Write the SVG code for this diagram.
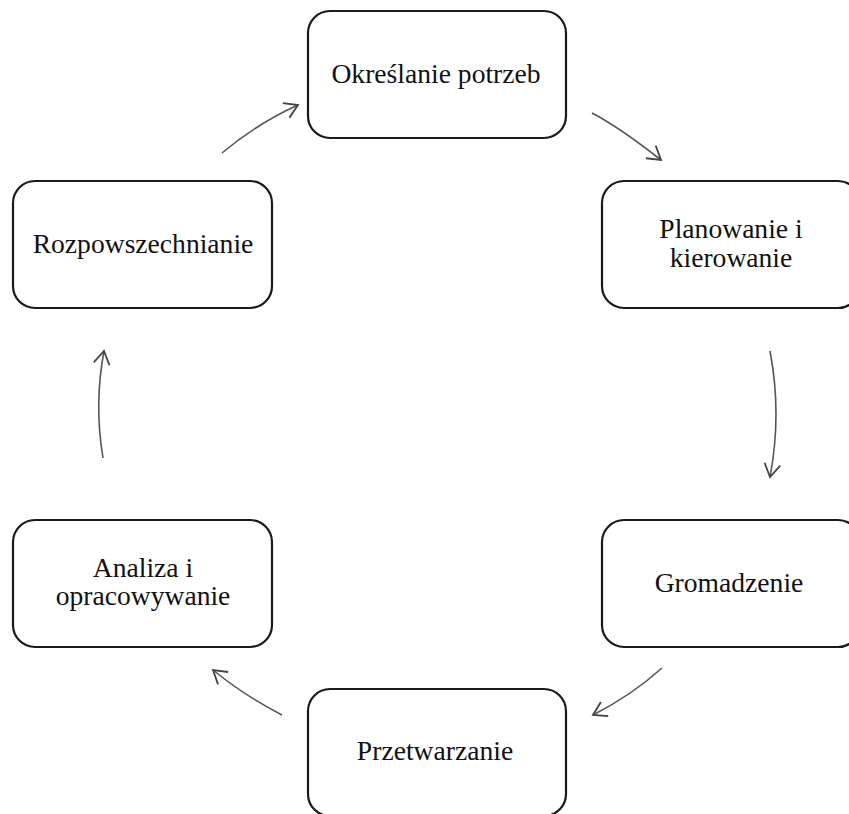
<svg xmlns="http://www.w3.org/2000/svg" width="849" height="814" viewBox="0 0 849 814">
<style>
.box{fill:#fff;stroke:#1a1a1a;stroke-width:2.2}
.lbl{font-family:"Liberation Serif","Times New Roman",serif;font-size:27.6px;fill:#111;text-anchor:middle}
.arc{fill:none;stroke:#555;stroke-width:1.6;marker-end:url(#ah)}
</style>
<defs>
<marker id="ah" markerUnits="userSpaceOnUse" viewBox="-16 -10 18 20" refX="0" refY="0" markerWidth="18" markerHeight="20" orient="auto">
<path d="M-13,-8 L0,0 L-13,8" fill="none" stroke="#444" stroke-width="1.8"/>
</marker>
</defs>
<rect width="849" height="814" fill="#fff"/>
<g id="connectors">
<path class="arc" d="M222,153 Q258,123 298,105"/>
<path class="arc" d="M592,113 Q619,127 661,160"/>
<path class="arc" d="M770,351 Q782,414 770,477"/>
<path class="arc" d="M662,668 Q632,695 593,715"/>
<path class="arc" d="M282,715 Q245,696 213,670"/>
<path class="arc" d="M103,458 Q94,404 104,351"/>
</g>
<g id="n1"><rect class="box" x="308" y="11" width="258" height="127" rx="22"/><text class="lbl" x="436" y="83">Określanie potrzeb</text></g>
<g id="n2"><rect class="box" x="602" y="181" width="258" height="127" rx="22"/><text class="lbl" x="731" y="238">Planowanie i</text><text class="lbl" x="731" y="267">kierowanie</text></g>
<g id="n3"><rect class="box" x="602" y="520" width="258" height="127" rx="22"/><text class="lbl" x="729" y="592">Gromadzenie</text></g>
<g id="n4"><rect class="box" x="308" y="689" width="258" height="127" rx="22"/><text class="lbl" x="435" y="760">Przetwarzanie</text></g>
<g id="n5"><rect class="box" x="13" y="520" width="259" height="127" rx="22"/><text class="lbl" x="143" y="577">Analiza i</text><text class="lbl" x="143" y="605">opracowywanie</text></g>
<g id="n6"><rect class="box" x="13" y="181" width="259" height="127" rx="22"/><text class="lbl" x="143" y="253">Rozpowszechnianie</text></g>
</svg>
